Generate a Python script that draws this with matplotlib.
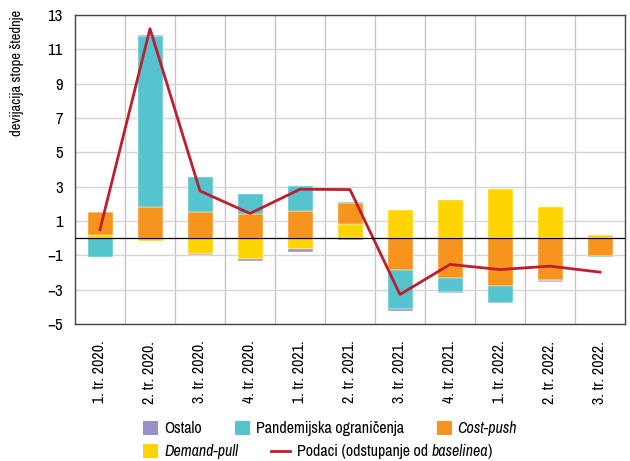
import matplotlib
matplotlib.use("Agg")
import matplotlib.pyplot as plt
import numpy as np
from matplotlib import font_manager
from matplotlib.lines import Line2D

quarters = ["1. tr. 2020.", "2. tr. 2020.", "3. tr. 2020.", "4. tr. 2020.",
            "1. tr. 2021.", "2. tr. 2021.", "3. tr. 2021.", "4. tr. 2021.",
            "1. tr. 2022.", "2. tr. 2022.", "3. tr. 2022."]
demand_pull = [0.2, -0.15, -0.91, -1.19, -0.66, 0.85, 1.63, 2.25, 2.87, 1.79, 0.17]
cost_push = [1.3, 1.82, 1.5, 1.42, 1.57, 1.17, -1.86, -2.33, -2.76, -2.45, -1.02]
pandemic = [-1.08, 9.96, 2.07, 1.14, 1.46, 0.1, -2.24, -0.79, -0.99, -0.07, -0.1]
ostalo = [0.04, 0.07, -0.07, -0.14, -0.16, -0.13, -0.15, -0.06, -0.03, -0.02, 0.0]
podaci = [0.5, 12.2, 2.75, 1.44, 2.85, 2.83, -3.28, -1.53, -1.83, -1.63, -1.98]

# the reference uses a condensed sans, take one if installed
fl = font_manager.fontManager.ttflist
narrow = sorted({f.name for f in fl if "Narrow" in f.name or "Condensed" in f.name})
base_font = narrow[0] if narrow else "DejaVu Sans"
ital = [f for f in fl if f.name == base_font and f.style in ("italic", "oblique") and f.weight in (400, "normal", "regular")]
if not ital:
    ital = [f for f in fl if f.name == base_font and f.style in ("italic", "oblique")]
if not ital:
    ital = [f for f in fl if f.name in narrow and f.style in ("italic", "oblique")]
if not ital:
    ital = [f for f in fl if f.name == "DejaVu Sans" and f.style == "oblique" and f.stretch == "condensed"]
if not ital:
    ital = [f for f in fl if f.name == "Roboto" and f.style == "italic" and f.weight == 400]
ital_prop = font_manager.FontProperties(fname=ital[0].fname) if ital else font_manager.FontProperties(style="italic")

plt.rcParams["font.family"] = [base_font, "DejaVu Sans"]
fs = 11.5 if narrow else 9.5

c_ost = "#9a90c6"
c_pan = "#55c4cf"
c_cost = "#f7941e"
c_dem = "#ffd400"
c_line = "#be1e2d"

fig = plt.figure(figsize=(6.3, 4.61), dpi=100)
ax = fig.add_axes([75 / 630, 1 - 324 / 461, 550 / 630, 309 / 461])

x = np.arange(len(quarters))
series = [(demand_pull, c_dem), (cost_push, c_cost), (pandemic, c_pan), (ostalo, c_ost)]
pos_base = np.zeros(len(x))
neg_base = np.zeros(len(x))
for vals, col in series:
    v = np.array(vals)
    bottom = np.where(v >= 0, pos_base, neg_base)
    ax.bar(x, v, bottom=bottom, width=0.5, color=col, edgecolor="#ffffff", linewidth=0.3, zorder=2)
    pos_base += np.where(v >= 0, v, 0)
    neg_base += np.where(v < 0, v, 0)

ax.plot(x, podaci, color=c_line, linewidth=2.0, zorder=3)
ax.axhline(0, color="black", linewidth=0.9, zorder=4)

ax.set_xlim(-0.5, len(x) - 0.5)
ax.set_ylim(-5, 13)
ax.set_yticks(np.arange(-5, 14, 2))
ax.set_xticks(x)
ax.set_xticklabels(quarters, rotation=90)
ax.set_xticks(np.arange(0.5, len(x) - 1, 1), minor=True)
ax.tick_params(axis="x", which="major", length=0, pad=12, labelsize=fs)
ax.tick_params(axis="x", which="minor", length=0)
ax.tick_params(axis="y", length=0, pad=9, labelsize=fs + 0.5)
ax.grid(True, axis="y", color="#d4d4d4", linewidth=1.0, zorder=0)
ax.grid(True, axis="x", which="minor", color="#c4c4c4", linewidth=1.0, zorder=0)
ax.set_axisbelow(True)
for s in ax.spines.values():
    s.set_color("#444444")
    s.set_linewidth(1.0)

fig.text(17 / 630, 1 - 10 / 461, "devijacija stope štednje", rotation=90,
         ha="center", va="top", fontsize=fs - 1)

# legend: two rows laid out left to right, labels drawn by hand so that
# italic parts can use the italic face
fig.canvas.draw()
renderer = fig.canvas.get_renderer()
W, H = 630, 461


def put_text(xp, yp, parts):
    # parts: list of (string, italic?) ; returns end x in pixels
    for s, it in parts:
        if it:
            t = fig.text(xp / W, yp / H, s, fontproperties=ital_prop.copy(), va="center", ha="left")
            t.set_fontsize(fs)
        else:
            t = fig.text(xp / W, yp / H, s, fontsize=fs, va="center", ha="left")
        bb = t.get_window_extent(renderer)
        xp += bb.width
    return xp


def legend_row(y_top, items):
    yp = H - y_top
    xp = 143
    for kind, col, parts in items:
        if kind == "patch":
            fig.patches.append(plt.Rectangle((xp / W, (yp - 7) / H), 15 / W, 14 / H,
                                             facecolor=col, transform=fig.transFigure, figure=fig))
            xp += 15 + 6
        else:
            fig.lines.append(Line2D([xp / W, (xp + 19) / W], [yp / H, yp / H], color=col,
                                    linewidth=2.0, transform=fig.transFigure, figure=fig))
            xp += 19 + 7
        xp = put_text(xp, yp, parts)
        xp += 33


legend_row(428, [("patch", c_ost, [("Ostalo", False)]),
                 ("patch", c_pan, [("Pandemijska ograničenja", False)]),
                 ("patch", c_cost, [("Cost-push", True)])])
legend_row(451, [("patch", c_dem, [("Demand-pull", True)]),
                 ("line", c_line, [("Podaci (odstupanje od ", False), ("baselinea", True), (")", False)])])

fig.savefig("out.png", dpi=100)
